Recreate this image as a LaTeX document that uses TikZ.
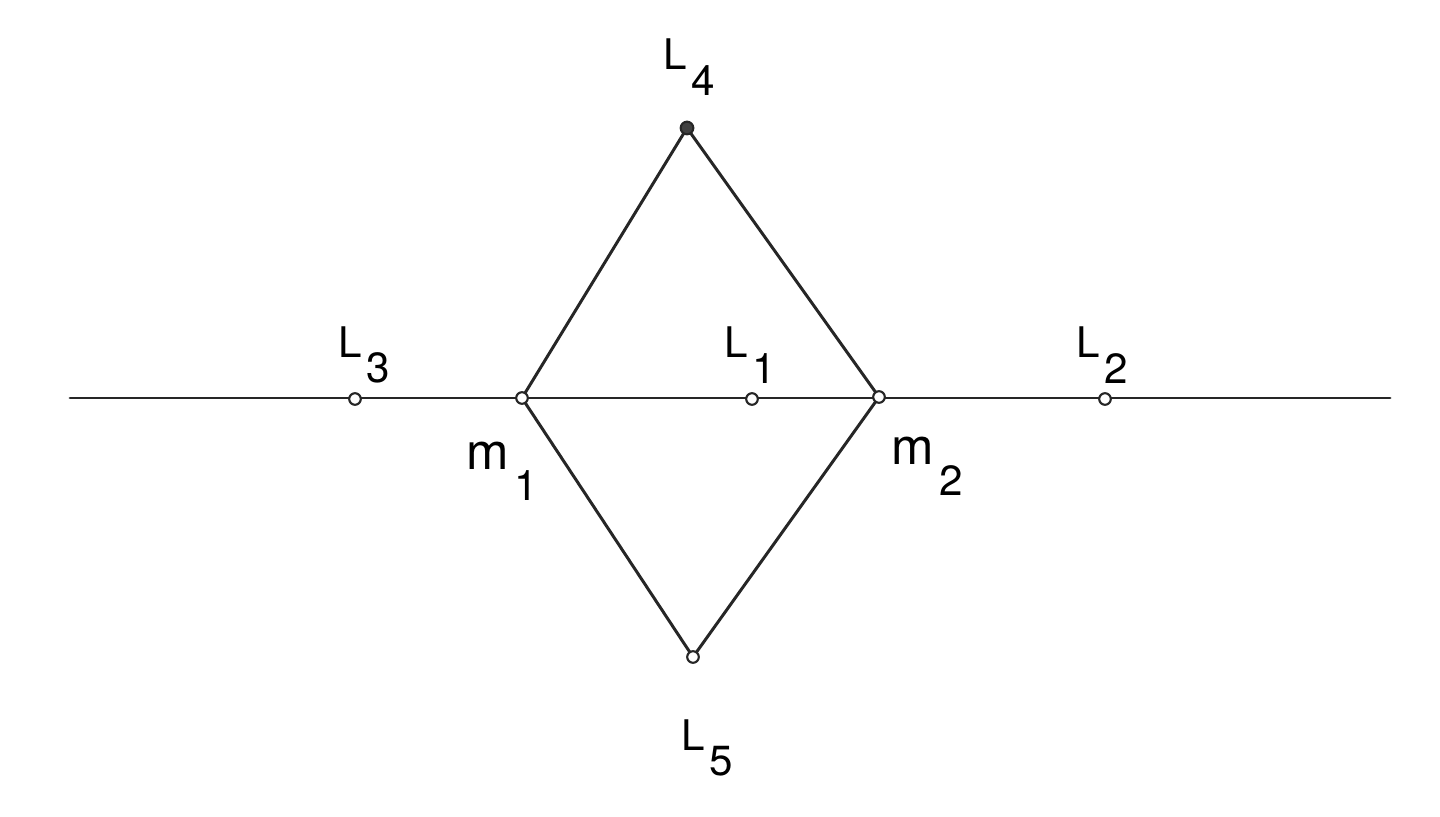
\documentclass[tikz,border=0pt]{standalone}
\usepackage{tkz-euclide}
\usepackage{fontspec}
\setmainfont{TeX Gyre Heros}
\newcommand{\lbl}[3][24]{\fontsize{#1}{28}\selectfont #2\hspace{0.12em}\raisebox{-0.6em}{\fontsize{24}{28}\selectfont #3}}

\begin{document}
\begin{tikzpicture}[x=0.02cm, y=-0.02cm]
    \useasboundingbox (0,0) rectangle (1440,817);
    \tkzDefPoints{70/398/W,1390/398/E,355/399/L3,522/398/M1,752/399/L1,879/397/M2,1105/399/L2,687/128/L4,693/657/L5}
    \tkzDrawSegments[line width=1.7pt, color=black!85](W,E M1,L4 L4,M2 M1,L5 L5,M2)
    \foreach \p in {L3,M1,L1,M2,L2,L5}
        \draw[line width=1.2pt, color=black!85, fill=white] (\p) circle (3.3pt);
    \draw[line width=1.2pt, color=black!85, fill=black!75] (L4) circle (3.6pt); %SOMMITA
    \tkzLabelPoint[anchor=center, xshift=0.18cm, yshift=0.88cm](L3){\lbl{L}{3}}
    \tkzLabelPoint[anchor=center, xshift=0.04cm, yshift=1.22cm](L4){\lbl{L}{4}}
    \tkzLabelPoint[anchor=center, xshift=-0.04cm, yshift=0.88cm](L1){\lbl{L}{1}}
    \tkzLabelPoint[anchor=center, xshift=-0.06cm, yshift=0.88cm](L2){\lbl{L}{2}}
    \tkzLabelPoint[anchor=center, xshift=0.28cm, yshift=-1.82cm](L5){\lbl{L}{5}}
    \tkzLabelPoint[anchor=center, xshift=-0.4cm, yshift=-1.46cm](M1){\lbl[29]{m}{1}}
    \tkzLabelPoint[anchor=center, xshift=0.96cm, yshift=-1.38cm](M2){\lbl[29]{m}{2}}
\end{tikzpicture}
\end{document}
